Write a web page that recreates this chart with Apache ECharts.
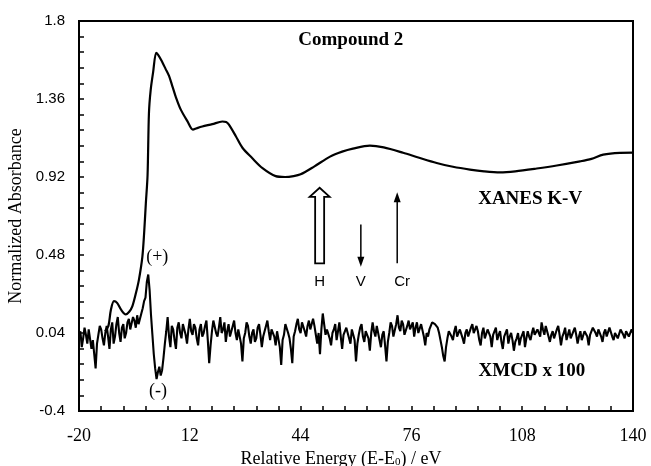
<!DOCTYPE html>
<html>
<head>
<meta charset="utf-8">
<script src="https://cdn.jsdelivr.net/npm/echarts@6/dist/echarts.min.js"></script>
<style>
  html, body { margin: 0; padding: 0; background: #fff; }
  #main { width: 651px; height: 466px; }
</style>
</head>
<body>
<div id="main"></div>
<script>
// XANES K-V edge (normalized absorbance) vs relative energy
var xanesEnergy = [-12.5, -11.5, -10.8, -9.9, -9.0, -7.8, -6.5, -5.5, -4.6, -3.5, -2.7, -1.7, -1.2, -0.7, -0.2,
  0.2, 0.7, 1.4, 2.3, 3.0, 4.0, 5.0, 6.0, 7.0, 7.9, 9.4, 11.3, 12.9, 14.0, 15.6, 18.5, 21.4, 22.5, 23.3,
  25.3, 27.2, 30.0, 33.0, 36.8, 39.5, 42.0, 44.0, 48.0, 52.5, 56.0, 59.1, 64.0, 68.0, 73.6, 78.0, 83.3,
  88.0, 92.9, 97.0, 101.6, 106.0, 112.2, 118.0, 124.7, 128.0, 131.4, 136.2, 140.0];
var xanesAbs = [0.05, 0.08, 0.17, 0.22, 0.21, 0.17, 0.145, 0.16, 0.19, 0.27, 0.34, 0.47, 0.60, 0.77, 0.93,
  1.28, 1.41, 1.51, 1.62, 1.605, 1.57, 1.53, 1.49, 1.43, 1.375, 1.30, 1.235, 1.187, 1.195, 1.205, 1.218, 1.233, 1.23, 1.215,
  1.15, 1.085, 1.027, 0.97, 0.925, 0.92, 0.925, 0.935, 0.98, 1.035, 1.063, 1.08, 1.097, 1.087, 1.057, 1.03, 0.999,
  0.978, 0.962, 0.952, 0.946, 0.952, 0.968, 0.985, 1.008, 1.022, 1.046, 1.056, 1.057];

// XMCD x 100, sampled every 0.4 eV from -20 eV
var xmcdStart = -20;
var xmcdStep = 0.4;
var xmcdVals = [
  0.02, 0.05, -0.04, 0.01, 0.07, 0.03, -0.02, 0.06, 0.05, -0.05, 0.00, -0.08, -0.16, -0.02, 0.03, 0.08, 0.06, 0.01, -0.03, 0.04,
  0.08, 0.02, -0.05, 0.06, 0.10, -0.02, 0.02, 0.09, 0.13, 0.04, -0.01, 0.07, 0.09, 0.01, 0.04, 0.10, 0.12, 0.06, 0.05, 0.13,
  0.11, 0.07, 0.14, 0.09, 0.10, 0.15, 0.18, 0.22, 0.24, 0.33, 0.37, 0.28, 0.14, 0.03, -0.08, -0.16, -0.22, -0.18, -0.15, -0.20,
  -0.17, -0.10, -0.02, 0.05, 0.13, 0.02, -0.04, 0.08, 0.06, 0.00, -0.05, 0.07, 0.10, 0.04, 0.01, 0.09, 0.08, 0.03, -0.02, 0.06,
  0.12, 0.05, 0.03, 0.09, 0.07, 0.01, -0.03, 0.06, 0.09, 0.02, 0.04, 0.08, 0.11, 0.00, -0.13, -0.03, 0.05, 0.11, 0.10, 0.04,
  0.02, 0.07, 0.13, 0.04, 0.06, 0.10, -0.01, 0.05, 0.09, 0.02, 0.03, 0.08, 0.11, 0.04, 0.00, 0.06, 0.07, -0.02, -0.12, 0.01,
  0.04, 0.10, 0.08, 0.02, -0.02, 0.04, 0.06, -0.01, 0.01, 0.07, 0.09, 0.03, -0.04, 0.02, 0.05, 0.08, 0.11, 0.05, 0.00, 0.06,
  0.07, 0.02, -0.03, 0.05, 0.04, -0.04, -0.14, 0.00, 0.03, 0.09, 0.08, 0.04, 0.01, -0.05, -0.13, 0.02, 0.05, 0.09, 0.12, 0.06,
  0.04, 0.10, 0.09, 0.05, 0.02, 0.08, 0.11, 0.06, 0.05, 0.12, 0.08, 0.03, -0.02, 0.04, -0.08, 0.06, 0.15, 0.09, 0.03, 0.06,
  0.07, 0.01, -0.03, 0.04, 0.06, 0.09, 0.00, 0.05, 0.10, 0.02, -0.05, 0.03, 0.04, 0.07, 0.08, 0.01, -0.02, 0.06, 0.05, 0.00,
  -0.12, -0.02, 0.03, 0.07, 0.09, 0.02, -0.01, 0.05, 0.06, 0.01, -0.06, 0.04, 0.10, 0.05, 0.02, 0.08, 0.07, 0.00, -0.04, 0.03,
  0.05, -0.03, -0.12, -0.01, 0.04, 0.10, 0.08, 0.02, 0.03, 0.09, 0.14, 0.07, 0.05, 0.11, 0.09, 0.03, 0.04, 0.08, 0.11, 0.06,
  0.06, 0.10, 0.02, 0.07, 0.10, 0.04, 0.05, 0.09, 0.08, 0.02, -0.03, 0.04, 0.02, 0.06, 0.08, 0.10, 0.11, 0.09, 0.10, 0.07,
  0.04, 0.00, -0.04, -0.09, -0.12, -0.04, 0.01, 0.05, 0.06, 0.02, 0.00, 0.05, 0.08, 0.02, 0.03, 0.06, 0.07, 0.01, -0.02, 0.04,
  0.06, 0.02, 0.01, 0.07, 0.09, 0.04, 0.03, 0.08, 0.05, 0.00, -0.03, 0.04, 0.07, 0.01, 0.02, 0.06, 0.06, 0.02, -0.04, 0.03,
  0.04, 0.07, 0.00, 0.03, 0.05, -0.01, -0.05, 0.02, 0.03, 0.06, -0.02, 0.02, 0.04, 0.00, -0.06, -0.01, 0.01, 0.04, -0.03, 0.01,
  0.02, 0.05, -0.04, 0.01, 0.05, 0.02, 0.00, 0.04, 0.07, 0.03, 0.02, 0.06, 0.06, 0.02, 0.10, 0.06, 0.03, 0.08, 0.07, 0.02,
  -0.01, 0.03, 0.05, 0.01, 0.02, 0.06, 0.08, 0.03, -0.03, 0.02, 0.04, 0.07, 0.00, 0.03, 0.06, 0.01, 0.02, 0.05, 0.07, 0.03,
  -0.02, 0.02, 0.05, 0.00, 0.01, 0.05, 0.06, 0.02, -0.03, 0.03, 0.04, 0.07, 0.08, 0.04, 0.02, 0.06, 0.05, 0.02, -0.01, 0.04,
  0.06, 0.02, 0.03, 0.07, 0.07, 0.02, 0.00, 0.04, 0.05, 0.01, 0.02, 0.06, 0.06, 0.03, 0.01, 0.05, 0.05, 0.02, 0.03, 0.06,
  0.04];

var xTicks = [-20, 12, 44, 76, 108, 140];
var yTicks = [-0.4, 0.04, 0.48, 0.92, 1.36, 1.8];

// arrows: [energy, tail, head]
var arrowH = [49.5, 0.433, 0.859];
var arrowV = [61.4, 0.652, 0.414];
var arrowCr = [71.9, 0.433, 0.834];
var arrowLabelY = 0.326;

function minorTicks(major) {
  var out = [];
  for (var i = 0; i < major.length - 1; i++) {
    var d = (major[i + 1] - major[i]) / 5;
    for (var k = 0; k < 5; k++) out.push(+(major[i] + d * k).toFixed(4));
  }
  out.push(major[major.length - 1]);
  return out;
}

var xanesData = [];
for (var i = 0; i < xanesEnergy.length; i++) xanesData.push([xanesEnergy[i], xanesAbs[i]]);
var xmcdData = [];
for (var j = 0; j < xmcdVals.length; j++) xmcdData.push([+(xmcdStart + j * xmcdStep).toFixed(2), xmcdVals[j]]);

var serif = '"Liberation Serif", "Times New Roman", serif';
var sans = '"Liberation Sans", Arial, sans-serif';

var chart = echarts.init(document.getElementById('main'));
chart.setOption({
  animation: false,
  grid: {
    left: 79, top: 21, right: 18, bottom: 55, outerBoundsMode: 'none', containLabel: false,
    show: true, borderColor: '#000', borderWidth: 2
  },
  xAxis: {
    type: 'value', min: -20, max: 140,
    name: 'Relative Energy (E-E{s|0}) / eV',
    nameLocation: 'middle', nameGap: 39,
    nameTextStyle: {
      fontFamily: serif, fontSize: 18, color: '#000', padding: [0, 30, 0, 0],
      rich: { s: { fontFamily: serif, fontSize: 11, color: '#000', verticalAlign: 'bottom', padding: [5, 0, 0, 0] } }
    },
    axisLine: { onZero: false, lineStyle: { color: '#000', width: 2 } },
    axisTick: { inside: true, length: 5, lineStyle: { color: '#000', width: 1.5 }, customValues: minorTicks(xTicks) },
    axisLabel: { fontFamily: serif, fontSize: 18, color: '#000', margin: 16, customValues: xTicks },
    splitLine: { show: false }
  },
  yAxis: {
    type: 'value', min: -0.4, max: 1.8,
    name: 'Normalized Absorbance',
    nameLocation: 'middle', nameGap: 50,
    nameTextStyle: { fontFamily: serif, fontSize: 18, color: '#000' },
    axisLine: { onZero: false, lineStyle: { color: '#000', width: 2 } },
    axisTick: { inside: true, length: 5, lineStyle: { color: '#000', width: 1.5 }, customValues: minorTicks(yTicks) },
    axisLabel: { fontFamily: sans, fontSize: 15, color: '#000', margin: 14, customValues: yTicks },
    splitLine: { show: false }
  },
  series: [
    {
      name: 'XANES K-V', type: 'line', data: xanesData, showSymbol: false, smooth: 0.3,
      lineStyle: { color: '#000', width: 2.2 }
    },
    {
      name: 'XMCD x 100', type: 'line', data: xmcdData, showSymbol: false,
      lineStyle: { color: '#000', width: 2.1 }
    }
  ]
});

function px(x, y) { return chart.convertToPixel({ gridIndex: 0 }, [x, y]); }

var g = [];
// hollow arrow H
var hb = px(arrowH[0], arrowH[1]), ht = px(arrowH[0], arrowH[2]);
g.push({
  type: 'polygon',
  shape: { points: [
    [hb[0] - 4.5, hb[1]], [hb[0] + 4.5, hb[1]], [hb[0] + 4.5, ht[1] + 9], [hb[0] + 10, ht[1] + 9],
    [hb[0], ht[1]], [hb[0] - 10, ht[1] + 9], [hb[0] - 4.5, ht[1] + 9]
  ] },
  style: { fill: '#fff', stroke: '#000', lineWidth: 1.8 }
});
// thin arrows
[arrowV, arrowCr].forEach(function (a) {
  var p0 = px(a[0], a[1]), p1 = px(a[0], a[2]);
  var dir = p1[1] > p0[1] ? -1 : 1;
  g.push({ type: 'line', shape: { x1: p0[0], y1: p0[1], x2: p1[0], y2: p1[1] + dir * 6 }, style: { stroke: '#000', lineWidth: 1.5 } });
  g.push({ type: 'polygon', shape: { points: [[p1[0], p1[1]], [p1[0] - 3.5, p1[1] + dir * 10], [p1[0] + 3.5, p1[1] + dir * 10]] }, style: { fill: '#000' } });
});
[['H', arrowH[0]], ['V', arrowV[0]], ['Cr', arrowCr[0] + 1.4]].forEach(function (t) {
  var p = px(t[1], arrowLabelY);
  g.push({ type: 'text', x: p[0], y: p[1], style: { text: t[0], font: '15px ' + sans, fill: '#000', align: 'center', verticalAlign: 'middle' } });
});
// text annotations
var notes = [
  ['Compound 2', 58.5, 1.69, 'bold 19px '],
  ['XANES K-V', 110.3, 0.793, 'bold 19px '],
  ['XMCD x 100', 110.8, -0.175, 'bold 19px '],
  ['(+)', 2.6, 0.47, '18px '],
  ['(-)', 2.8, -0.29, '18px ']
];
notes.forEach(function (n) {
  var p = px(n[1], n[2]);
  g.push({ type: 'text', x: p[0], y: p[1], style: { text: n[0], font: n[3] + serif, fill: '#000', align: 'center', verticalAlign: 'middle' } });
});
chart.setOption({ graphic: g });
</script>
</body>
</html>
